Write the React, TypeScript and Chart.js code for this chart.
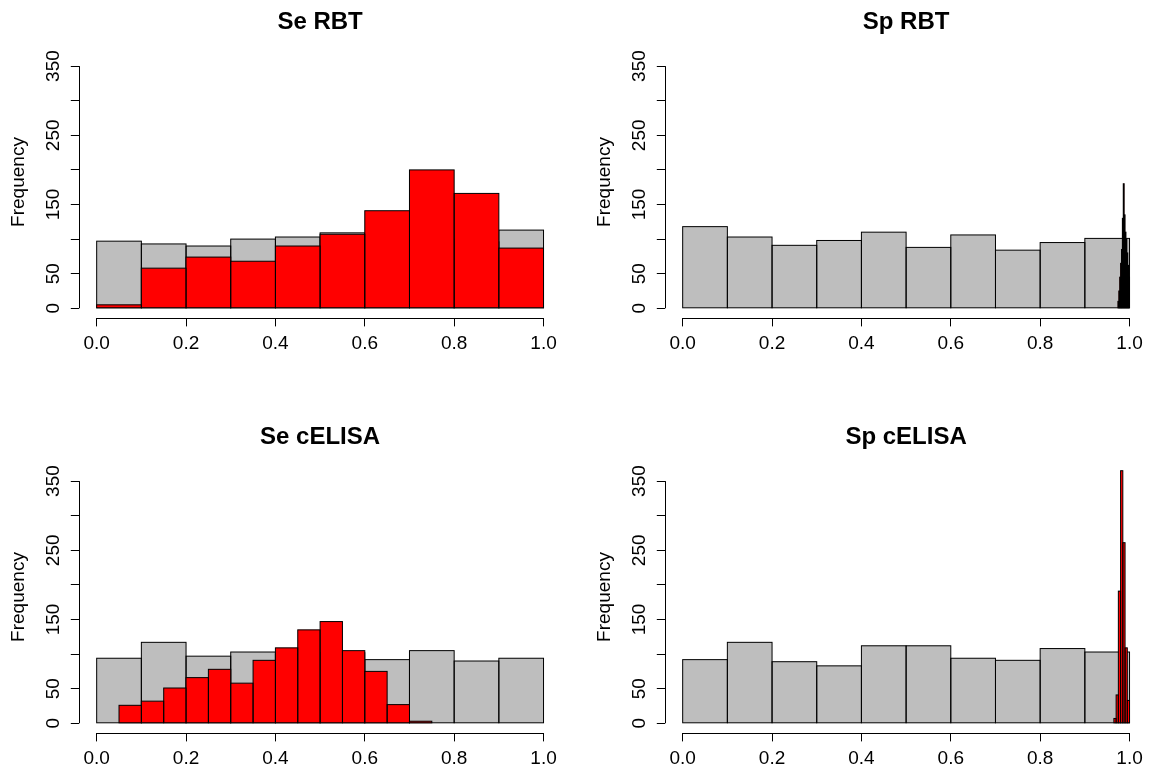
import React, { useEffect, useRef } from 'react';
import { Chart, registerables } from 'chart.js';

Chart.register(...registerables);

const FONT = '"Liberation Sans", Arial, Helvetica, sans-serif';

// Axis ticks
const xTickValues = [0, 0.2, 0.4, 0.6, 0.8, 1.0];
const yTickValues = [0, 50, 100, 150, 200, 250, 300, 350];
const yLabelledTicks = [0, 50, 150, 250, 350];
const xRange = [-0.04, 1.04];
const yRange = [-14.6, 379.6];

// Se RBT
const seRbtPriorStart = 0;
const seRbtPriorWidth = 0.1;
const seRbtPriorCounts = [97, 93, 90, 100, 103, 109, 100, 100, 96, 113];
const seRbtPostStart = 0;
const seRbtPostWidth = 0.1;
const seRbtPostCounts = [5, 58, 74, 68, 90, 107, 141, 200, 166, 87];

// Sp RBT
const spRbtPriorStart = 0;
const spRbtPriorWidth = 0.1;
const spRbtPriorCounts = [118, 103, 91, 98, 110, 88, 106, 84, 95, 101];
const spRbtPostStart = 0.974;
const spRbtPostWidth = 0.002;
const spRbtPostCounts = [10, 25, 45, 65, 85, 130, 180, 135, 110, 100, 80, 62, 45];

// Se cELISA
const seElisaPriorStart = 0;
const seElisaPriorWidth = 0.1;
const seElisaPriorCounts = [94, 117, 97, 103, 100, 102, 92, 105, 90, 94];
const seElisaPostStart = 0.05;
const seElisaPostWidth = 0.05;
const seElisaPostCounts = [26, 32, 51, 66, 78, 58, 91, 109, 135, 147, 105, 75, 27, 3];

// Sp cELISA
const spElisaPriorStart = 0;
const spElisaPriorWidth = 0.1;
const spElisaPriorCounts = [92, 117, 89, 83, 112, 112, 94, 91, 108, 103];
const spElisaPostStart = 0.965;
const spElisaPostWidth = 0.005;
const spElisaPostCounts = [7, 41, 191, 365, 261, 109, 33];

// Layout
const CANVAS_W = 570;
const CANVAS_H = 351;
const Y_AXIS_W = 78.8;
const X_AXIS_H = 32.6;
const PAD_RIGHT = 8.6;

function toBars(start: number, width: number, counts: number[]) {
  return counts.map((c, i) => ({ x: start + (i + 0.5) * width, y: c }));
}

const panels = [
  {
    title: 'Se RBT', left: 0, top: 0,
    prior: toBars(seRbtPriorStart, seRbtPriorWidth, seRbtPriorCounts),
    post: toBars(seRbtPostStart, seRbtPostWidth, seRbtPostCounts),
  },
  {
    title: 'Sp RBT', left: 586, top: 0,
    prior: toBars(spRbtPriorStart, spRbtPriorWidth, spRbtPriorCounts),
    post: toBars(spRbtPostStart, spRbtPostWidth, spRbtPostCounts),
  },
  {
    title: 'Se cELISA', left: 0, top: 415,
    prior: toBars(seElisaPriorStart, seElisaPriorWidth, seElisaPriorCounts),
    post: toBars(seElisaPostStart, seElisaPostWidth, seElisaPostCounts),
  },
  {
    title: 'Sp cELISA', left: 586, top: 415,
    prior: toBars(spElisaPriorStart, spElisaPriorWidth, spElisaPriorCounts),
    post: toBars(spElisaPostStart, spElisaPostWidth, spElisaPostCounts),
  },
];

const axisLines = {
  id: 'axisLines',
  afterDraw(chart: any) {
    const { ctx, chartArea, scales } = chart;
    const x = scales.x;
    const y = scales.y;
    ctx.save();
    ctx.strokeStyle = '#000';
    ctx.lineWidth = 1;
    ctx.beginPath();
    const yb = Math.round(chartArea.bottom) + 0.5;
    ctx.moveTo(x.getPixelForValue(xTickValues[0]), yb);
    ctx.lineTo(x.getPixelForValue(xTickValues[xTickValues.length - 1]), yb);
    const xl = Math.round(chartArea.left) + 0.5;
    ctx.moveTo(xl, y.getPixelForValue(yTickValues[0]));
    ctx.lineTo(xl, y.getPixelForValue(yTickValues[yTickValues.length - 1]));
    ctx.stroke();
    ctx.restore();
  },
};

// R-style outline: 1px stroke centred on each bar edge
const barOutlines = {
  id: 'barOutlines',
  afterDatasetDraw(chart: any, args: any) {
    const { ctx } = chart;
    const meta = args.meta;
    ctx.save();
    ctx.strokeStyle = '#000';
    ctx.lineWidth = 1;
    for (const el of meta.data) {
      const p = el.getProps(['x', 'y', 'base', 'width'], true);
      const left = p.x - p.width / 2;
      const top = Math.min(p.y, p.base);
      const h = Math.abs(p.base - p.y);
      ctx.strokeRect(left, top, p.width, h);
    }
    ctx.restore();
  },
};

const barStyle = {
  borderWidth: 0,
  grouped: false,
  barPercentage: 1,
  categoryPercentage: 1,
  inflateAmount: 0,
};

function HistPanel({ panel }: { panel: any }) {
  const ref = useRef<HTMLCanvasElement>(null);
  useEffect(() => {
    const chart = new Chart(ref.current as HTMLCanvasElement, {
      type: 'bar',
      data: {
        datasets: [
          { label: 'posterior', data: panel.post, xAxisID: 'x2', backgroundColor: '#FF0000', order: 0, ...barStyle } as any,
          { label: 'prior', data: panel.prior, xAxisID: 'x', backgroundColor: '#BEBEBE', order: 1, ...barStyle } as any,
        ],
      },
      options: {
        responsive: false,
        animation: false,
        events: [],
        layout: { padding: { left: 0, right: PAD_RIGHT, top: 0, bottom: 0 } },
        plugins: {
          legend: { display: false },
          tooltip: { enabled: false },
          title: {
            display: true,
            text: panel.title,
            fullSize: false,
            color: '#000',
            font: { family: FONT, size: 24, weight: 'bold', lineHeight: 1.2 },
            padding: { top: 8.4, bottom: 8.4 },
          },
        },
        scales: {
          x: {
            type: 'linear',
            min: xRange[0],
            max: xRange[1],
            offset: false,
            grid: { offset: false, drawOnChartArea: false, tickLength: 8, color: '#000', tickColor: '#000', lineWidth: 1 },
            border: { display: false },
            ticks: {
              color: '#000',
              font: { family: FONT, size: 19, lineHeight: 1.2 },
              padding: 5.5,
              maxRotation: 0,
              autoSkip: false,
              callback: (v: any) => Number(v).toFixed(1),
            },
            afterBuildTicks: (s: any) => { s.ticks = xTickValues.map((v) => ({ value: v })); },
            afterFit: (s: any) => { s.height = X_AXIS_H; s.paddingLeft = 0; s.paddingRight = 0; },
          },
          x2: {
            type: 'linear',
            display: false,
            min: xRange[0],
            max: xRange[1],
            offset: false,
            grid: { offset: false },
            afterBuildTicks: (s: any) => { s.ticks = [{ value: 0 }, { value: 1 }]; },
          },
          y: {
            type: 'linear',
            min: yRange[0],
            max: yRange[1],
            grid: { drawOnChartArea: false, tickLength: 8, color: '#000', tickColor: '#000', lineWidth: 1 },
            border: { display: false },
            ticks: {
              color: '#000',
              font: { family: FONT, size: 19, lineHeight: 1.2 },
              minRotation: 90,
              maxRotation: 90,
              crossAlign: 'center',
              padding: 1.6,
              autoSkip: false,
              callback: (v: any) => (yLabelledTicks.includes(Number(v)) ? String(v) : ''),
            },
            title: {
              display: true,
              text: 'Frequency',
              color: '#000',
              font: { family: FONT, size: 19, lineHeight: 1.2 },
              padding: { top: 7.3, bottom: 0 },
            },
            afterBuildTicks: (s: any) => { s.ticks = yTickValues.map((v) => ({ value: v })); },
            afterFit: (s: any) => { s.width = Y_AXIS_W; s.paddingTop = 0; s.paddingBottom = 0; },
          },
        },
      } as any,
      plugins: [axisLines, barOutlines],
    });
    return () => chart.destroy();
  }, [panel]);
  return (
    <canvas
      ref={ref}
      width={CANVAS_W}
      height={CANVAS_H}
      style={{ position: 'absolute', left: panel.left, top: panel.top, width: CANVAS_W, height: CANVAS_H }}
    />
  );
}

export default function App() {
  return (
    <div style={{ position: 'absolute', left: 0, top: 0, width: 1156, height: 767, overflow: 'hidden', background: '#fff' }}>
      {panels.map((p) => (
        <HistPanel key={p.title} panel={p} />
      ))}
    </div>
  );
}
